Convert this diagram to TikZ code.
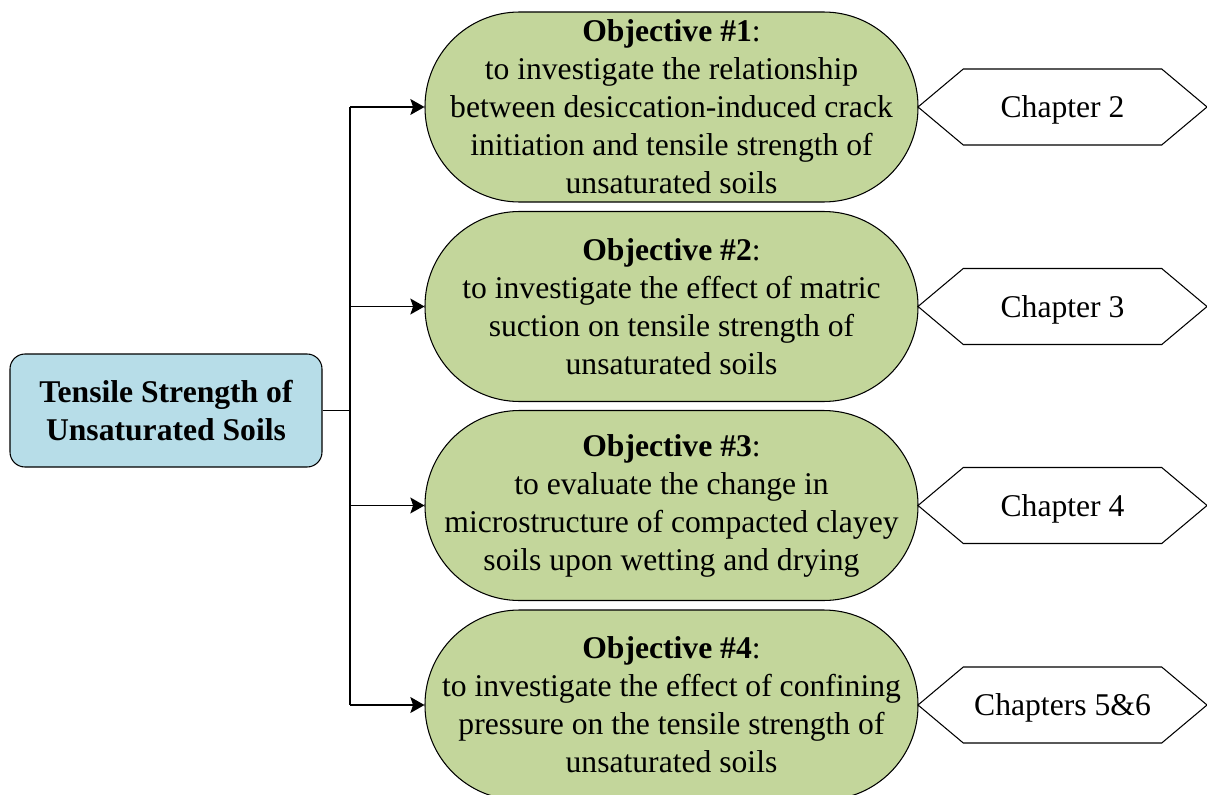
\documentclass[tikz,border=0pt]{standalone}
\usepackage{fontspec}
\setmainfont{Liberation Serif}
\usetikzlibrary{shapes.symbols,arrows.meta}
\definecolor{objgreen}{HTML}{C3D69B}
\definecolor{topicblue}{HTML}{B7DDE8}
\tikzset{
  txt/.style={font=\fontsize{18}{21.6}\selectfont},
  topic/.style={txt, draw, fill=topicblue, rounded corners=0.3cm, minimum width=6.24cm,
    minimum height=2.26cm, align=center, font=\fontsize{18}{21.6}\selectfont\bfseries},
  objective/.style={txt, draw, fill=objgreen, rounded corners=1.89cm, minimum width=9.86cm,
    minimum height=3.8cm, inner sep=0pt, align=center},
  chapter/.style={txt, draw, fill=white, signal, signal to=east and west, signal pointer angle=80,
    minimum width=5.78cm, minimum height=1.52cm, inner sep=0pt, text depth=0pt},
  link/.style={line width=1.1pt}
}

\begin{document}
\begin{tikzpicture}[>={Stealth[length=8pt,width=9pt,inset=1.5pt]}, line width=0.6pt]
                \useasboundingbox (0,0) rectangle (24.14,-15.88);
                \node[topic] (soils) at (3.32,-8.21) {Tensile Strength of\\Unsaturated Soils};
                \coordinate (trunk) at (7.0,-8.21);
                \node[objective] (o1) at (13.43,-2.14) {\textbf{Objective \#1}:\\to investigate the relationship\\between desiccation-induced crack\\initiation and tensile strength of\\unsaturated soils};
                \node[objective] (o2) at (13.43,-6.13) {\textbf{Objective \#2}:\\to investigate the effect of matric\\suction on tensile strength of\\unsaturated soils};
                \node[objective] (o3) at (13.43,-10.11) {\textbf{Objective \#3}:\\to evaluate the change in\\microstructure of compacted clayey\\soils upon wetting and drying};
                \node[objective] (o4) at (13.43,-14.10) {\textbf{Objective \#4}:\\to investigate the effect of confining\\pressure on the tensile strength of\\unsaturated soils};
                \foreach \i/\chap in {1/Chapter 2,2/Chapter 3,3/Chapter 4,4/Chapters 5\&6}
                    \node[chapter] (c\i) at ([xshift=7.82cm]o\i.center) {\chap};
                \draw[link] (soils.east) -- (trunk);
                \draw[link] (trunk |- o1.west) -- (trunk |- o4.west);
                \foreach \i in {1,2,...,4}
                    \draw[link,->] (trunk |- o\i.west) -- (o\i.west);
            \end{tikzpicture}
\end{document}
